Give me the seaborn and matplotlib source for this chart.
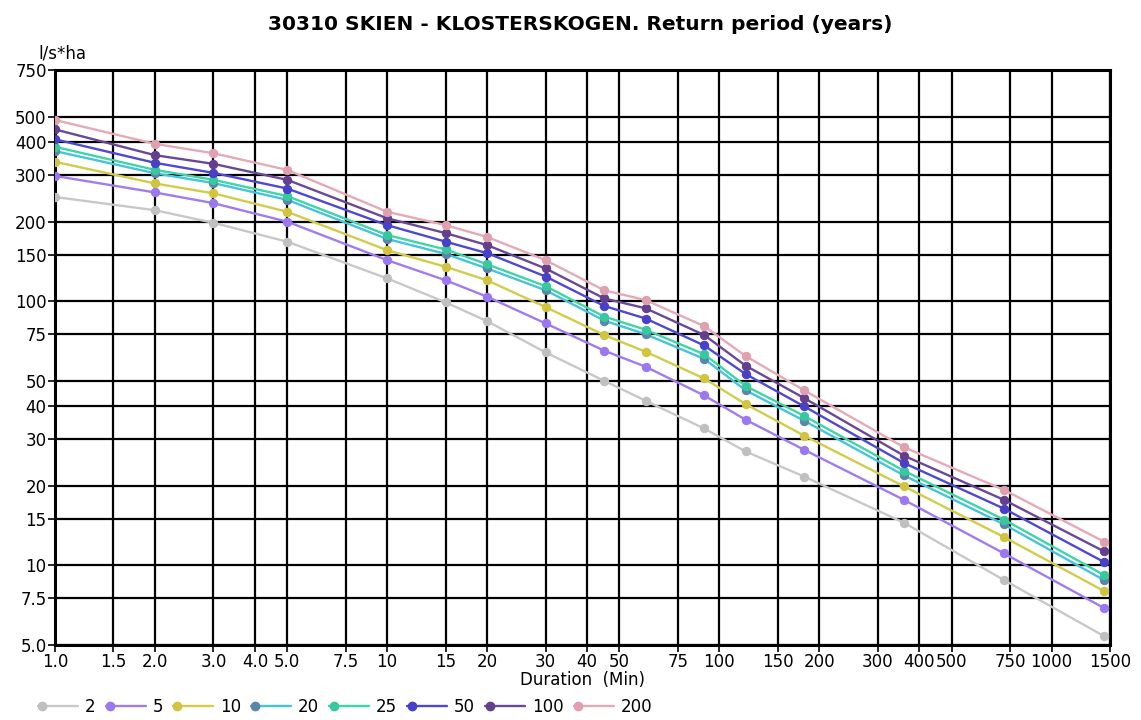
import numpy as np
import pandas as pd
import seaborn as sns
import matplotlib
matplotlib.use("Agg")
import matplotlib.pyplot as plt
from matplotlib.lines import Line2D
from matplotlib.legend_handler import HandlerLine2D

# ---------------- data ----------------
durations = [1, 2, 3, 5, 10, 15, 20, 30, 45, 60, 90, 120, 180, 360, 720, 1440]
return_periods = ["2", "5", "10", "20", "25", "50", "100", "200"]

rp2 = [248, 221, 198, 168, 122, 99, 84, 64, 50, 42, 33, 27, 21.7, 14.5, 8.8, 5.4]
rp5 = [298, 258, 235, 200, 143, 120, 104, 82.4, 65, 56.5, 44, 35.6, 27.4, 17.7, 11.1, 6.9]
rp10 = [337, 279, 256, 218, 156, 135, 120, 95, 74.5, 64.4, 51, 40.8, 31, 19.9, 12.8, 8.0]
rp20 = [370, 305, 280, 242, 172, 151, 133, 110, 84.5, 75, 60.5, 46, 35.3, 21.9, 14.3, 8.8]
rp25 = [384, 314, 288, 250, 178, 157, 138, 114, 87.5, 78, 63, 47.8, 36.8, 22.8, 14.9, 9.2]
rp50 = [410, 334, 306, 267, 194, 168, 152, 124, 96, 86, 68, 53, 40, 24.4, 16.4, 10.3]
rp100 = [447, 357, 331, 288, 206, 181, 163, 133, 102.5, 94, 74.5, 57, 43, 26, 17.7, 11.3]
rp200 = [485, 394, 363, 314, 218, 194, 175, 143, 110, 101, 80.5, 62, 46, 28, 19.3, 12.3]

series_values = [rp2, rp5, rp10, rp20, rp25, rp50, rp100, rp200]

x_ticks = [1, 1.5, 2, 3, 4, 5, 7.5, 10, 15, 20, 30, 40, 50, 75, 100, 150, 200, 300, 400, 500, 750, 1000, 1500]
x_tick_labels = ["1.0", "1.5", "2.0", "3.0", "4.0", "5.0", "7.5", "10", "15", "20", "30", "40", "50",
                 "75", "100", "150", "200", "300", "400", "500", "750", "1000", "1500"]
y_ticks = [5, 7.5, 10, 15, 20, 30, 40, 50, 75, 100, 150, 200, 300, 400, 500, 750]
y_tick_labels = ["5.0", "7.5", "10", "15", "20", "30", "40", "50", "75", "100", "150", "200",
                 "300", "400", "500", "750"]

title = "30310 SKIEN - KLOSTERSKOGEN. Return period (years)"
x_label = "Duration  (Min)"
y_label = "l/s*ha"

# ---------------- styling ----------------
line_colors = ["#c8c8c8", "#a07cf0", "#d2cc4a", "#48c4d8", "#40d4a8", "#5048d0", "#6a4898", "#e4aab8"]
marker_colors = ["#c0c0c0", "#9c78f0", "#d0c440", "#5a86a8", "#38c8a0", "#4840c8", "#64408c", "#e0a0b0"]

df = pd.DataFrame({
    "Duration": np.tile(durations, len(return_periods)),
    "Value": np.concatenate([np.array(v, dtype=float) for v in series_values]),
    "Return period": np.repeat(return_periods, len(durations)),
})

sns.set_style("white")
plt.rcParams["font.family"] = ["DejaVu Sans"]
plt.rcParams["text.color"] = "black"
plt.rcParams["axes.labelcolor"] = "black"
plt.rcParams["xtick.color"] = "black"
plt.rcParams["ytick.color"] = "black"

fig = plt.figure(figsize=(11.41, 7.2), dpi=100)
ax = fig.add_axes([55 / 1141, 1 - 645 / 720, (1110 - 55) / 1141, (645 - 70) / 720])

for rp, lc, mc in zip(return_periods, line_colors, marker_colors):
    sub = df[df["Return period"] == rp]
    sns.lineplot(data=sub, x="Duration", y="Value", ax=ax, color=lc, linewidth=1.7,
                 marker="o", markersize=6, markerfacecolor=mc, markeredgecolor=mc,
                 label=rp, legend=False, zorder=3)

ax.set_xscale("log")
ax.set_yscale("log")
ax.set_xlim(1, 1500)
ax.set_ylim(5, 750)
ax.set_xticks(x_ticks)
ax.set_xticklabels(x_tick_labels)
ax.set_yticks(y_ticks)
ax.set_yticklabels(y_tick_labels)
ax.minorticks_off()
ax.tick_params(axis="both", which="major", direction="out", length=5, width=1.2,
               color="black", labelcolor="black", labelsize=12, pad=1, bottom=True, left=True)
ax.grid(True, which="major", color="black", linewidth=1.6, zorder=0)
ax.set_axisbelow(True)
for s in ax.spines.values():
    s.set_color("black")
    s.set_linewidth(2.2)

ax.set_xlabel(x_label, fontsize=12, labelpad=0, color="black")
ax.set_ylabel("")
fig.text(38 / 1141, 1 - 53 / 720, y_label, fontsize=12, ha="left", va="center", color="black")
fig.text(580 / 1141, 1 - 25 / 720, title, fontsize=14.5, fontweight="bold", ha="center", va="center",
         color="black")


class LeftMarkerHandler(HandlerLine2D):
    def create_artists(self, legend, orig_handle, xdescent, ydescent, width, height, fontsize, trans):
        y = (height - ydescent) / 2.0
        line = Line2D([-xdescent, -xdescent + width], [y, y])
        self.update_prop(line, orig_handle, legend)
        line.set_marker("None")
        line.set_transform(trans)
        mk = Line2D([-xdescent + 3], [y])
        self.update_prop(mk, orig_handle, legend)
        mk.set_linestyle("None")
        mk.set_transform(trans)
        return [line, mk]


handles = [Line2D([0], [0], color=lc, lw=1.7, marker="o", markersize=6,
                  markerfacecolor=mc, markeredgecolor=mc)
           for lc, mc in zip(line_colors, marker_colors)]
leg = fig.legend(handles, return_periods, loc="center left", bbox_to_anchor=(38 / 1141, 1 - 707 / 720),
                 ncol=8, frameon=False, fontsize=12, handlelength=2.4, handletextpad=0.4,
                 columnspacing=0.62, borderpad=0, borderaxespad=0,
                 handler_map={Line2D: LeftMarkerHandler()})
for t in leg.get_texts():
    t.set_color("black")

fig.savefig("out.png", dpi=100, facecolor="white")
